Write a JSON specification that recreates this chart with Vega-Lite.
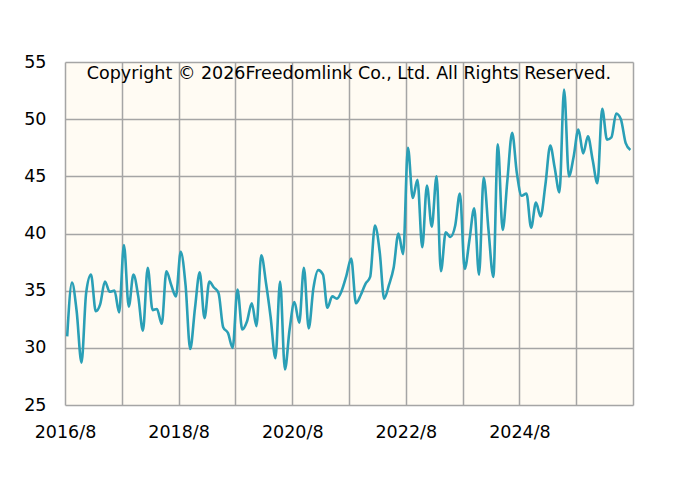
{
  "$schema": "https://vega.github.io/schema/vega-lite/v6.json",
  "width": 568,
  "height": 343,
  "autosize": {"type": "none"},
  "padding": {"left": 65, "top": 62, "right": 67, "bottom": 90},
  "background": "#ffffff",
  "title": {
    "text": "Copyright © 2026Freedomlink Co., Ltd. All Rights Reserved.",
    "font": "DejaVu Sans",
    "fontSize": 17.5,
    "fontWeight": "normal",
    "color": "#000000",
    "anchor": "middle",
    "offset": -29
  },
  "data": {
    "values": [
      {"date": "2016-08-15", "v": 31.0}, {"date": "2016-09-15", "v": 35.7}, {"date": "2016-10-15", "v": 33.2}, {"date": "2016-11-15", "v": 28.7}, {"date": "2016-12-15", "v": 34.8},
      {"date": "2017-01-15", "v": 36.4}, {"date": "2017-02-15", "v": 33.2}, {"date": "2017-03-15", "v": 33.8}, {"date": "2017-04-15", "v": 35.8}, {"date": "2017-05-15", "v": 34.9}, {"date": "2017-06-15", "v": 35.0},
      {"date": "2017-07-15", "v": 33.1}, {"date": "2017-08-15", "v": 39.0}, {"date": "2017-09-15", "v": 33.6}, {"date": "2017-10-15", "v": 36.4}, {"date": "2017-11-15", "v": 34.5}, {"date": "2017-12-15", "v": 31.5},
      {"date": "2018-01-15", "v": 37.0}, {"date": "2018-02-15", "v": 33.3}, {"date": "2018-03-15", "v": 33.4}, {"date": "2018-04-15", "v": 32.1}, {"date": "2018-05-15", "v": 36.7}, {"date": "2018-06-15", "v": 35.5},
      {"date": "2018-07-15", "v": 34.5}, {"date": "2018-08-15", "v": 38.4}, {"date": "2018-09-15", "v": 35.5}, {"date": "2018-10-15", "v": 29.9}, {"date": "2018-11-15", "v": 33.5}, {"date": "2018-12-15", "v": 36.6},
      {"date": "2019-01-15", "v": 32.6}, {"date": "2019-02-15", "v": 35.8}, {"date": "2019-03-15", "v": 35.3}, {"date": "2019-04-15", "v": 34.8}, {"date": "2019-05-15", "v": 31.8}, {"date": "2019-06-15", "v": 31.3},
      {"date": "2019-07-15", "v": 30.0}, {"date": "2019-08-15", "v": 35.1}, {"date": "2019-09-15", "v": 31.6}, {"date": "2019-10-15", "v": 32.3}, {"date": "2019-11-15", "v": 33.9}, {"date": "2019-12-15", "v": 31.9},
      {"date": "2020-01-15", "v": 38.1}, {"date": "2020-02-15", "v": 35.6}, {"date": "2020-03-15", "v": 32.7}, {"date": "2020-04-15", "v": 29.1}, {"date": "2020-05-15", "v": 35.8}, {"date": "2020-06-15", "v": 28.1},
      {"date": "2020-07-15", "v": 31.6}, {"date": "2020-08-15", "v": 34.0}, {"date": "2020-09-15", "v": 32.2}, {"date": "2020-10-15", "v": 37.0}, {"date": "2020-11-15", "v": 31.7}, {"date": "2020-12-15", "v": 35.2},
      {"date": "2021-01-15", "v": 36.8}, {"date": "2021-02-15", "v": 36.4}, {"date": "2021-03-15", "v": 33.5}, {"date": "2021-04-15", "v": 34.5}, {"date": "2021-05-15", "v": 34.3}, {"date": "2021-06-15", "v": 35.0},
      {"date": "2021-07-15", "v": 36.3}, {"date": "2021-08-15", "v": 37.8}, {"date": "2021-09-15", "v": 33.9}, {"date": "2021-10-15", "v": 34.6}, {"date": "2021-11-15", "v": 35.6}, {"date": "2021-12-15", "v": 36.2},
      {"date": "2022-01-15", "v": 40.7}, {"date": "2022-02-15", "v": 38.3}, {"date": "2022-03-15", "v": 34.3}, {"date": "2022-04-15", "v": 35.5}, {"date": "2022-05-15", "v": 37.0}, {"date": "2022-06-15", "v": 40.0},
      {"date": "2022-07-15", "v": 38.2}, {"date": "2022-08-15", "v": 47.5}, {"date": "2022-09-15", "v": 43.1}, {"date": "2022-10-15", "v": 44.7}, {"date": "2022-11-15", "v": 38.8}, {"date": "2022-12-15", "v": 44.2},
      {"date": "2023-01-15", "v": 40.6}, {"date": "2023-02-15", "v": 45.0}, {"date": "2023-03-15", "v": 36.7}, {"date": "2023-04-15", "v": 40.1}, {"date": "2023-05-15", "v": 39.7}, {"date": "2023-06-15", "v": 40.7},
      {"date": "2023-07-15", "v": 43.5}, {"date": "2023-08-15", "v": 36.9}, {"date": "2023-09-15", "v": 39.5}, {"date": "2023-10-15", "v": 42.2}, {"date": "2023-11-15", "v": 36.4}, {"date": "2023-12-15", "v": 44.9},
      {"date": "2024-01-15", "v": 40.3}, {"date": "2024-02-15", "v": 36.2}, {"date": "2024-03-15", "v": 47.8}, {"date": "2024-04-15", "v": 40.3}, {"date": "2024-05-15", "v": 44.6}, {"date": "2024-06-15", "v": 48.8},
      {"date": "2024-07-15", "v": 45.3}, {"date": "2024-08-15", "v": 43.3}, {"date": "2024-09-15", "v": 43.5}, {"date": "2024-10-15", "v": 40.5}, {"date": "2024-11-15", "v": 42.7}, {"date": "2024-12-15", "v": 41.5},
      {"date": "2025-01-15", "v": 44.3}, {"date": "2025-02-15", "v": 47.7}, {"date": "2025-03-15", "v": 45.8}, {"date": "2025-04-15", "v": 43.6}, {"date": "2025-05-15", "v": 52.6}, {"date": "2025-06-15", "v": 45.0},
      {"date": "2025-07-15", "v": 46.7}, {"date": "2025-08-15", "v": 49.1}, {"date": "2025-09-15", "v": 47.0}, {"date": "2025-10-15", "v": 48.5}, {"date": "2025-11-15", "v": 46.4}, {"date": "2025-12-15", "v": 44.4},
      {"date": "2026-01-15", "v": 50.9}, {"date": "2026-02-15", "v": 48.2}, {"date": "2026-03-15", "v": 48.4}, {"date": "2026-04-15", "v": 50.5}, {"date": "2026-05-15", "v": 50.0}, {"date": "2026-06-15", "v": 47.9},
      {"date": "2026-07-15", "v": 47.3}
    ]
  },
  "mark": {
    "type": "line",
    "interpolate": "monotone",
    "color": "#2a9fb6",
    "strokeWidth": 2.6
  },
  "encoding": {
    "x": {
      "field": "date",
      "type": "temporal",
      "title": null,
      "scale": {
        "type": "utc",
        "nice": false,
        "domain": [
          {"year": 2016, "month": 8, "date": 1, "utc": true},
          {"year": 2026, "month": 8, "date": 1, "utc": true}
        ]
      },
      "axis": {
        "values": [
          {"year": 2016, "month": 8, "date": 1, "utc": true},
          {"year": 2017, "month": 8, "date": 1, "utc": true},
          {"year": 2018, "month": 8, "date": 1, "utc": true},
          {"year": 2019, "month": 8, "date": 1, "utc": true},
          {"year": 2020, "month": 8, "date": 1, "utc": true},
          {"year": 2021, "month": 8, "date": 1, "utc": true},
          {"year": 2022, "month": 8, "date": 1, "utc": true},
          {"year": 2023, "month": 8, "date": 1, "utc": true},
          {"year": 2024, "month": 8, "date": 1, "utc": true},
          {"year": 2025, "month": 8, "date": 1, "utc": true},
          {"year": 2026, "month": 8, "date": 1, "utc": true}
        ],
        "labelExpr": "utcyear(datum.value) % 2 == 0 && utcyear(datum.value) < 2026 ? utcFormat(datum.value, '%Y/%-m') : ''",
        "labelPadding": 18,
        "labelFlush": false,
        "labelOverlap": false
      }
    },
    "y": {
      "field": "v",
      "type": "quantitative",
      "title": null,
      "scale": {"domain": [25, 55], "nice": false, "zero": false},
      "axis": {
        "values": [25, 30, 35, 40, 45, 50, 55],
        "labelPadding": 19
      }
    }
  },
  "config": {
    "view": {"fill": "#fffbf3", "stroke": null},
    "axis": {
      "domain": false,
      "ticks": false,
      "grid": true,
      "gridColor": "#a5a5a5",
      "gridWidth": 1.5,
      "gridOpacity": 1,
      "labelFont": "DejaVu Sans",
      "labelFontSize": 17.5,
      "labelColor": "#000000"
    }
  }
}
